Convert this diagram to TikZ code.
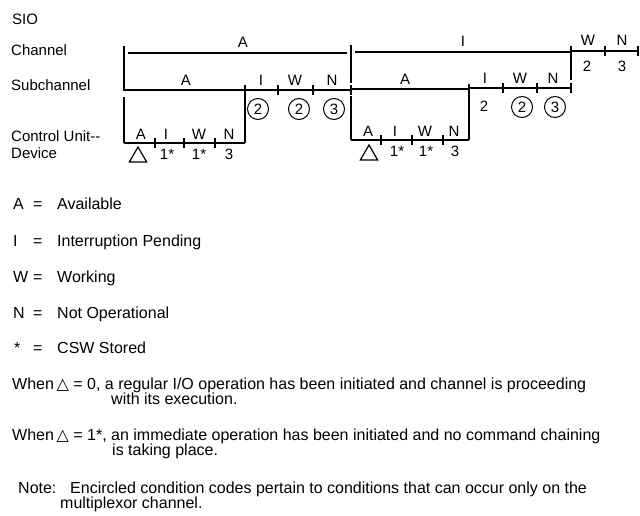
\documentclass[tikz,border=0pt]{standalone}
\usepackage{fontspec}
\setmainfont{Liberation Sans}
\newfontfamily\symfont{DejaVu Sans}
\usetikzlibrary{shapes.geometric}
\begin{document}
\begin{tikzpicture}[x=1pt,y=-1pt,
  thinln/.style={line width=1.2pt},
  thickln/.style={line width=2.8pt},
  tickln/.style={line width=2.5pt},
  vln/.style={line width=2.8pt},
  txt/.style={inner sep=0pt, font=\fontsize{15}{18}\selectfont, anchor=base},
  ltxt/.style={inner sep=0pt, font=\fontsize{15}{18}\selectfont, anchor=base west},
  ptxt/.style={inner sep=0pt, font=\fontsize{16}{19}\selectfont, anchor=base west},
  circ/.style={circle, draw, line width=1pt, minimum size=21pt, inner sep=0pt, font=\fontsize{15}{18}\selectfont},
  tri/.style={regular polygon, regular polygon sides=3, draw, line width=1.2pt, minimum size=20pt, inner sep=0pt},
]
\useasboundingbox (0,0) rectangle (640,516);
\fill[white] (0,0) rectangle (640,516);

% ---------- left labels
\node[ltxt] (sio) at (12,25) {SIO};
\node[ltxt] (chl) at (11,56) {Channel};
\node[ltxt] (subl) at (11,91) {Subchannel};
\node[ltxt] (cul) at (11,142) {Control Unit-{}-};
\node[ltxt] (devl) at (11,159) {Device};

% ---------- coordinates
% group 1
\coordinate (g1vt) at (124,46);  \coordinate (g1vm) at (124,91);
\coordinate (g1vm2) at (124,97); \coordinate (g1vb) at (124,143);
\coordinate (ch1a) at (128,53);  \coordinate (ch1b) at (347,53);
\coordinate (sb1a) at (124,90);  \coordinate (sb1b) at (245,90);
\coordinate (v2t) at (245,85);   \coordinate (v2b) at (245,143);
\coordinate (sb1c) at (351,90);
\coordinate (cu1a) at (124,143); \coordinate (cu1b) at (245,143);
% group 2
\coordinate (g2vt) at (351,45);  \coordinate (g2vm) at (351,83);
\coordinate (g2vm2) at (351,96); \coordinate (g2vb) at (351,140);
\coordinate (ch2a) at (355,52);  \coordinate (ch2b) at (571,52);
\coordinate (v3t) at (571,46);   \coordinate (v3b) at (571,80);
\coordinate (ch3a) at (571,51);  \coordinate (ch3b) at (638,51);
\coordinate (sb2a) at (351,89);  \coordinate (sb2b) at (469,89);
\coordinate (v4t) at (469,84);   \coordinate (v4b) at (469,140);
\coordinate (sb2c) at (469,88);  \coordinate (sb2d) at (571,88);
\coordinate (cu2a) at (351,140); \coordinate (cu2b) at (469,140);

% ---------- lines
\draw[vln] (g1vt) -- (g1vm);
\draw[vln] (g1vm2) -- (g1vb);
\draw[thinln] (ch1a) -- (ch1b);
\draw[thinln] (sb1a) -- (sb1b);
\draw[vln] (v2t) -- (v2b);
\draw[thickln] (sb1b) -- (sb1c);
\draw[thickln] (cu1a) -- (cu1b);

\draw[vln] (g2vt) -- (g2vm);
\draw[vln] (g2vm2) -- (g2vb);
\draw[thinln] (ch2a) -- (ch2b);
\draw[vln] (v3t) -- (v3b);
\draw[thickln] (ch3a) -- (ch3b);
\draw[thinln] (sb2a) -- (sb2b);
\draw[vln] (v4t) -- (v4b);
\draw[thickln] (sb2c) -- (sb2d);
\draw[thickln] (cu2a) -- (cu2b);

% ticks
\foreach \x/\y in {278/90, 313/90, 351/90,
                   155/143, 184/143, 215/143,
                   605/51, 638/51,
                   503/88, 537/88, 571/88,
                   381/140, 412/140, 443/140}{
  \coordinate (tka) at (\x,\y-5);
  \coordinate (tkb) at (\x,\y+5);
  \draw[tickln] (tka) -- (tkb);
}

% ---------- channel labels
\node[txt] (cA) at (243,48) {A};
\node[txt] (cI) at (463,47) {I};
\node[txt] (cW) at (588,46) {W};
\node[txt] (cN) at (622,46) {N};
\node[txt] (c2) at (587,72) {2};
\node[txt] (c3) at (622,72) {3};

% ---------- subchannel labels
\node[txt] (sA1) at (186,86) {A};
\node[txt] (sI1) at (261,86) {I};
\node[txt] (sW1) at (295,86) {W};
\node[txt] (sN1) at (332,86) {N};
\node[circ] (sc1) at (258,109) {2};
\node[circ] (sc2) at (299,109) {2};
\node[circ] (sc3) at (334,109) {3};

\node[txt] (sA2) at (405,85) {A};
\node[txt] (sI2) at (485,84) {I};
\node[txt] (sW2) at (520,84) {W};
\node[txt] (sN2) at (553,84) {N};
\node[txt] (s22) at (484,112) {2};
\node[circ] (sc4) at (522,107) {2};
\node[circ] (sc5) at (555,107) {3};

% ---------- control unit labels
\node[txt] (uA1) at (141,140) {A};
\node[txt] (uI1) at (166,140) {I};
\node[txt] (uW1) at (199,140) {W};
\node[txt] (uN1) at (229,140) {N};
\node[tri] (t1) at (138,157) {};
\node[txt] (u11) at (167,160) {1*};
\node[txt] (u12) at (199,160) {1*};
\node[txt] (u13) at (229,160) {3};

\node[txt] (uA2) at (368,137) {A};
\node[txt] (uI2) at (395,137) {I};
\node[txt] (uW2) at (425,137) {W};
\node[txt] (uN2) at (454,137) {N};
\node[tri] (t2) at (369,155) {};
\node[txt] (u21) at (397,157) {1*};
\node[txt] (u22) at (426,157) {1*};
\node[txt] (u23) at (455,157) {3};

% ---------- legend
\node[ptxt] (lA) at (13,209) {A};
\node[ptxt] (lAe) at (33,209) {=};
\node[ptxt] (lAt) at (57,209) {Available};
\node[ptxt] (lI) at (13,246) {I};
\node[ptxt] (lIe) at (33,246) {=};
\node[ptxt] (lIt) at (57,246) {Interruption Pending};
\node[ptxt] (lW) at (13,282) {W};
\node[ptxt] (lWe) at (33,282) {=};
\node[ptxt] (lWt) at (57,282) {Working};
\node[ptxt] (lN) at (13,318) {N};
\node[ptxt] (lNe) at (33,318) {=};
\node[ptxt] (lNt) at (57,318) {Not Operational};
\node[ptxt] (lS) at (14,353) {*};
\node[ptxt] (lSe) at (33,353) {=};
\node[ptxt] (lSt) at (57,353) {CSW Stored};

\node[ptxt] (w1) at (12,389) {When\,{\symfont △} = 0, a regular I/O operation has been initiated and channel is proceeding};
\node[ptxt] (w1b) at (111,404) {with its execution.};
\node[ptxt] (w2) at (12,440) {When\,{\symfont △} = 1*, an immediate operation has been initiated and no command chaining};
\node[ptxt] (w2b) at (112,455) {is taking place.};
\node[ptxt] (nt) at (18,493) {Note:};
\node[ptxt] (ntt) at (70,493) {Encircled condition codes pertain to conditions that can occur only on the};
\node[ptxt] (ntb) at (60,508) {multiplexor channel.};
\end{tikzpicture}
\end{document}
